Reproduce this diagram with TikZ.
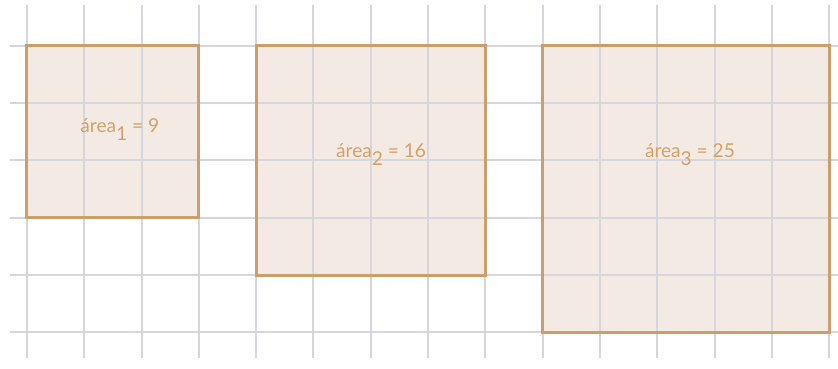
\documentclass[tikz,border=0pt]{standalone}
\usepackage{fontspec}
\setmainfont{Lato}
\definecolor{gridgray}{RGB}{214,215,220}
\definecolor{sqfill}{RGB}{244,234,228}
\definecolor{sqedge}{RGB}{206,158,106}
\definecolor{labeltan}{RGB}{210,160,106}
\newcommand{\lowidx}[1]{\raisebox{-0.75ex}{#1}}

\begin{document}
\begin{tikzpicture}[x=1cm,y=1cm,
    square/.style={draw=sqedge, line width=1.5pt},
    gridline/.style={gridgray, line width=1pt},
    arealabel/.style={text=labeltan, font=\fontsize{9.5}{11}\selectfont}]
        \useasboundingbox (-0.471,-0.627) rectangle (14.154,5.80);
        % squares, filled under the grid
        \fill[sqfill] (0,2) rectangle (3,5);
        \fill[sqfill] (4,1) rectangle (8,5);
        \fill[sqfill] (9,0) rectangle (14,5);
        % grid
        \foreach \x in {0,...,14}
            \draw[gridline] (\x,-0.44) -- (\x,5.71);
        \foreach \y in {0,...,5}
            \draw[gridline] (-0.3,\y) -- (14.154,\y);
        % outlines
        \draw[square] (0,2) rectangle (3,5);
        \draw[square] (4,1) rectangle (8,5);
        \draw[square] (9,0) rectangle (14,5);
        % labels
        \node[arealabel] (area1) at (1.62,3.54) {área\lowidx{1} = 9};
        \node[arealabel] (area2) at (6.18,3.10) {área\lowidx{2} = 16};
        \node[arealabel] (area3) at (11.57,3.10) {área\lowidx{3} = 25};
    \end{tikzpicture}
\end{document}
